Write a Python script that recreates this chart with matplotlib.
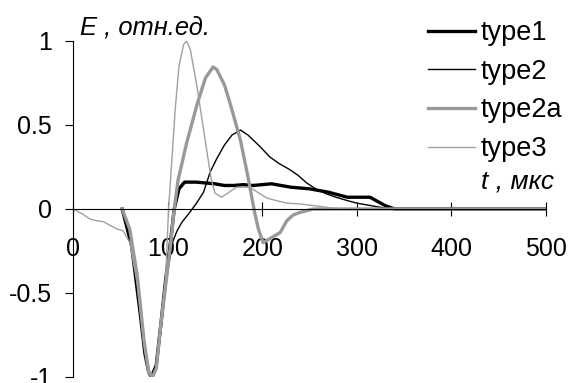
import matplotlib
matplotlib.use("Agg")
import matplotlib.pyplot as plt

plt.rcParams['font.family'] = ['Liberation Sans', 'DejaVu Sans']

# pulse shapes (t in мкс, E in отн.ед.)
type1_t = [52, 62, 71, 76, 80, 83, 88, 93, 98, 103, 107, 112, 118, 130, 140, 150, 160, 170,
           180, 190, 200, 210, 220, 230, 240, 250, 260, 270, 280, 290, 300, 314, 322, 330,
           340, 400, 500]
type1_E = [0, -0.22, -0.62, -0.86, -0.97, -1.0, -0.93, -0.68, -0.42, -0.2, 0.0, 0.12, 0.16,
           0.16, 0.155, 0.15, 0.14, 0.14, 0.145, 0.14, 0.145, 0.15, 0.14, 0.13, 0.125, 0.12,
           0.11, 0.10, 0.085, 0.07, 0.07, 0.07, 0.045, 0.02, 0.0, 0.0, 0.0]

type2_t = [52, 62, 71, 76, 80, 83, 88, 93, 98, 105, 110, 115, 122, 130, 138, 145, 152, 160,
           168, 177, 185, 198, 208, 218, 229, 238, 247, 258, 268, 278, 290, 300, 315, 330,
           340, 400, 500]
type2_E = [0, -0.2, -0.6, -0.85, -0.97, -1.0, -0.95, -0.72, -0.45, -0.2, -0.13, -0.08, -0.03,
           0.03, 0.1, 0.22, 0.3, 0.38, 0.44, 0.47, 0.44, 0.37, 0.31, 0.27, 0.235, 0.2, 0.155,
           0.115, 0.09, 0.07, 0.05, 0.035, 0.02, 0.005, 0.0, 0.0, 0.0]

type2a_t = [52, 60, 68, 75, 80, 84, 88, 93, 98, 103, 107, 111, 120, 131, 140, 148, 152, 160,
            166, 177, 185, 192, 196, 201, 210, 219, 226, 233, 240, 254, 300, 400, 500]
type2a_E = [0, -0.12, -0.4, -0.78, -0.97, -1.0, -0.95, -0.68, -0.45, -0.22, 0.0, 0.17, 0.39,
            0.62, 0.78, 0.845, 0.83, 0.74, 0.63, 0.41, 0.19, -0.02, -0.12, -0.2, -0.17, -0.14,
            -0.07, -0.035, -0.02, 0.0, 0.0, 0.0, 0.0]

type3_t = [0, 10, 18, 25, 32, 40, 47, 53, 60, 68, 75, 80, 84, 88, 93, 98, 101, 104, 108, 112,
           117, 120, 124, 131, 140, 146, 150, 157, 165, 173, 187, 195, 205, 215, 226, 240,
           255, 275, 290, 400, 500]
type3_E = [0, -0.03, -0.06, -0.07, -0.075, -0.1, -0.12, -0.13, -0.2, -0.45, -0.8, -0.97, -1.0,
           -0.95, -0.7, -0.4, 0.0, 0.25, 0.59, 0.85, 0.98, 1.0, 0.95, 0.73, 0.4, 0.18, 0.095,
           0.07, 0.1, 0.13, 0.13, 0.1, 0.065, 0.05, 0.035, 0.03, 0.02, 0.005, 0.0, 0.0, 0.0]

xticks = [0, 100, 200, 300, 400, 500]
yticks = [-1, -0.5, 0, 0.5, 1]
ytick_labels = ['-1', '-0.5', '0', '0.5', '1']

fig = plt.figure(figsize=(5.69, 3.83), dpi=100)
ax = fig.add_axes([73 / 569, 1 - 377 / 383, (546 - 73) / 569, (377 - 41) / 383])

ax.plot(type1_t, type1_E, color='black', lw=2.4, label='type1')
ax.plot(type2_t, type2_E, color='black', lw=1.0, label='type2')
ax.plot(type2a_t, type2a_E, color='#999999', lw=2.4, label='type2a')
ax.plot(type3_t, type3_E, color='#a0a0a0', lw=1.0, label='type3')

ax.set_xlim(0, 500)
ax.set_ylim(-1, 1)
ax.spines['left'].set_position(('data', 0))
ax.spines['bottom'].set_position(('data', 0))
ax.spines['top'].set_visible(False)
ax.spines['right'].set_visible(False)
ax.spines['left'].set_linewidth(0.8)
ax.spines['bottom'].set_linewidth(0.8)

ax.set_xticks(xticks)
ax.set_yticks(yticks)
ax.set_yticklabels(ytick_labels)
ax.tick_params(axis='x', direction='inout', length=10, width=0.8, pad=15, labelsize=18)
ax.tick_params(axis='y', direction='out', length=6, width=0.8, pad=9, labelsize=18)

leg = ax.legend(loc='upper left', bbox_to_anchor=(428 / 569, 1 - 20 / 383),
                bbox_transform=fig.transFigure, frameon=False, fontsize=19.5,
                handlelength=1.75, handletextpad=0.19, labelspacing=0.47,
                borderpad=0, borderaxespad=0)

fig.text(80 / 569, 1 - 28 / 383, 'E , отн.ед.', fontsize=18.4, style='italic', va='center')
fig.text(481 / 569, 1 - 182 / 383, 't , мкс', fontsize=19, style='italic', va='center')

fig.savefig('out.png', dpi=100)
